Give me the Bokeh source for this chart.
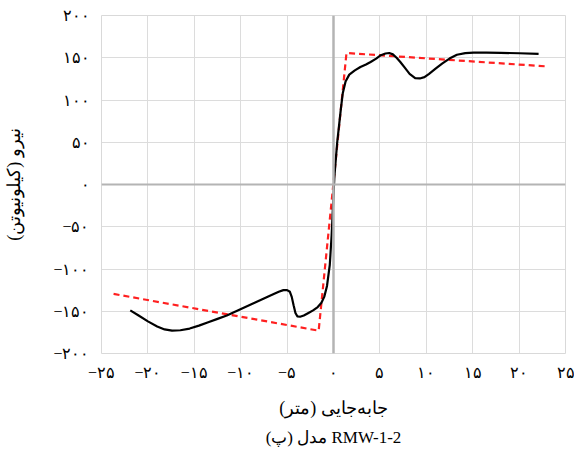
from bokeh.plotting import figure
from bokeh.models import FixedTicker, Span, Title
from bokeh.embed import file_html
from bokeh.resources import INLINE

# Tick values and Persian tick labels
x_ticks = [-25, -20, -15, -10, -5, 0, 5, 10, 15, 20, 25]
x_tick_labels = ["−۲۵", "−۲۰", "−۱۵", "−۱۰", "−۵", "۰", "۵", "۱۰", "۱۵", "۲۰", "۲۵"]
y_ticks = [-200, -150, -100, -50, 0, 50, 100, 150, 200]
y_tick_labels = ["−۲۰۰", "−۱۵۰", "−۱۰۰", "−۵۰", "۰", "۵۰", "۱۰۰", "۱۵۰", "۲۰۰"]

# Experimental hysteresis envelope (black)
exp_disp = [-21.9, -21.0, -20.0, -19.0, -18.2, -17.4, -16.5, -15.5, -14.5, -13.5,
            -12.5, -11.5, -10.5, -9.5, -8.5, -7.5, -6.5, -5.9, -5.4, -5.0,
            -4.7, -4.5, -4.3, -4.1, -3.9, -3.6, -3.2, -2.7, -2.2, -1.7,
            -1.3, -1.0, -0.7, -0.4, -0.2, 0.1, 0.4, 0.6, 0.8, 1.0,
            1.3, 1.7, 2.3, 2.9, 3.5, 4.0, 4.6, 5.1, 5.6, 6.0,
            6.4, 6.8, 7.2, 7.7, 8.2, 8.8, 9.3, 9.8, 10.3, 11.0,
            11.7, 12.5, 13.3, 14.2, 15.1, 16.5, 18.0, 20.0, 22.1]
exp_force = [-149, -155, -162, -168, -171.5, -173, -172.5, -170.5, -167, -163,
             -159, -155, -150, -145, -140, -135, -130, -127, -125, -125,
             -127, -133, -143, -152, -156, -156.5, -155, -152, -149, -145,
             -140, -133, -120, -95, -60, 10, 50, 70, 90, 108,
             122, 130, 135, 139, 142, 145, 149, 153, 155, 155.6,
             154, 150, 145, 138, 131, 126, 125.5, 127, 131, 137,
             143, 149, 153.5, 155.5, 156, 156, 155.8, 155.3, 154.5]

# Bilinear idealisation (red dashed)
bil_disp = [-23.7, -1.6, 1.4, 22.9]
bil_force = [-129.5, -173, 155.6, 139.8]

x_label = "جابه‌جایی (متر)"
y_label = "نیرو (کیلونیوتن)"
caption = "(پ) مدل RMW-1-2"

FONT = "Liberation Serif"

p = figure(width=574, height=455, x_range=(-25, 25), y_range=(-200, 200),
           output_backend="svg", toolbar_location=None,
           min_border_left=101, min_border_right=9, min_border_top=15, min_border_bottom=102)
p.background_fill_color = "white"
p.border_fill_color = "white"
p.outline_line_color = "#d9d9d9"

p.xgrid.grid_line_color = "#dcdcdc"
p.ygrid.grid_line_color = "#dcdcdc"

p.xaxis.ticker = FixedTicker(ticks=x_ticks)
p.yaxis.ticker = FixedTicker(ticks=y_ticks)
p.xaxis.major_label_overrides = {t: l for t, l in zip(x_ticks, x_tick_labels)}
p.yaxis.major_label_overrides = {t: l for t, l in zip(y_ticks, y_tick_labels)}

for ax in (p.xaxis, p.yaxis):
    ax.axis_line_color = None
    ax.major_tick_line_color = None
    ax.minor_tick_line_color = None
    ax.major_label_text_font = FONT
    ax.major_label_text_font_size = "16px"
    ax.major_label_text_color = "black"
    ax.axis_label_text_font = FONT
    ax.axis_label_text_font_size = "18px"
    ax.axis_label_text_font_style = "normal"
    ax.axis_label_text_color = "black"

p.xaxis.axis_label = x_label
p.yaxis.axis_label = y_label
p.xaxis.major_label_standoff = 4
p.yaxis.major_label_standoff = 6
p.xaxis.axis_label_standoff = 14
p.yaxis.axis_label_standoff = 26

p.add_layout(Span(location=0, dimension="height", line_color="#b4b4b4", line_width=2.5))
p.add_layout(Span(location=0, dimension="width", line_color="#b4b4b4", line_width=2))

p.line(bil_disp, bil_force, line_color="#ff2020", line_width=2.2, line_dash="6 4")
p.line(exp_disp, exp_force, line_color="black", line_width=2.2, line_join="round")

t = Title(text=caption, align="center", text_font=FONT, text_font_size="17px",
          text_font_style="normal", text_color="black", standoff=10)
p.add_layout(t, "below")

open("out.html", "w").write(file_html(p, INLINE))
